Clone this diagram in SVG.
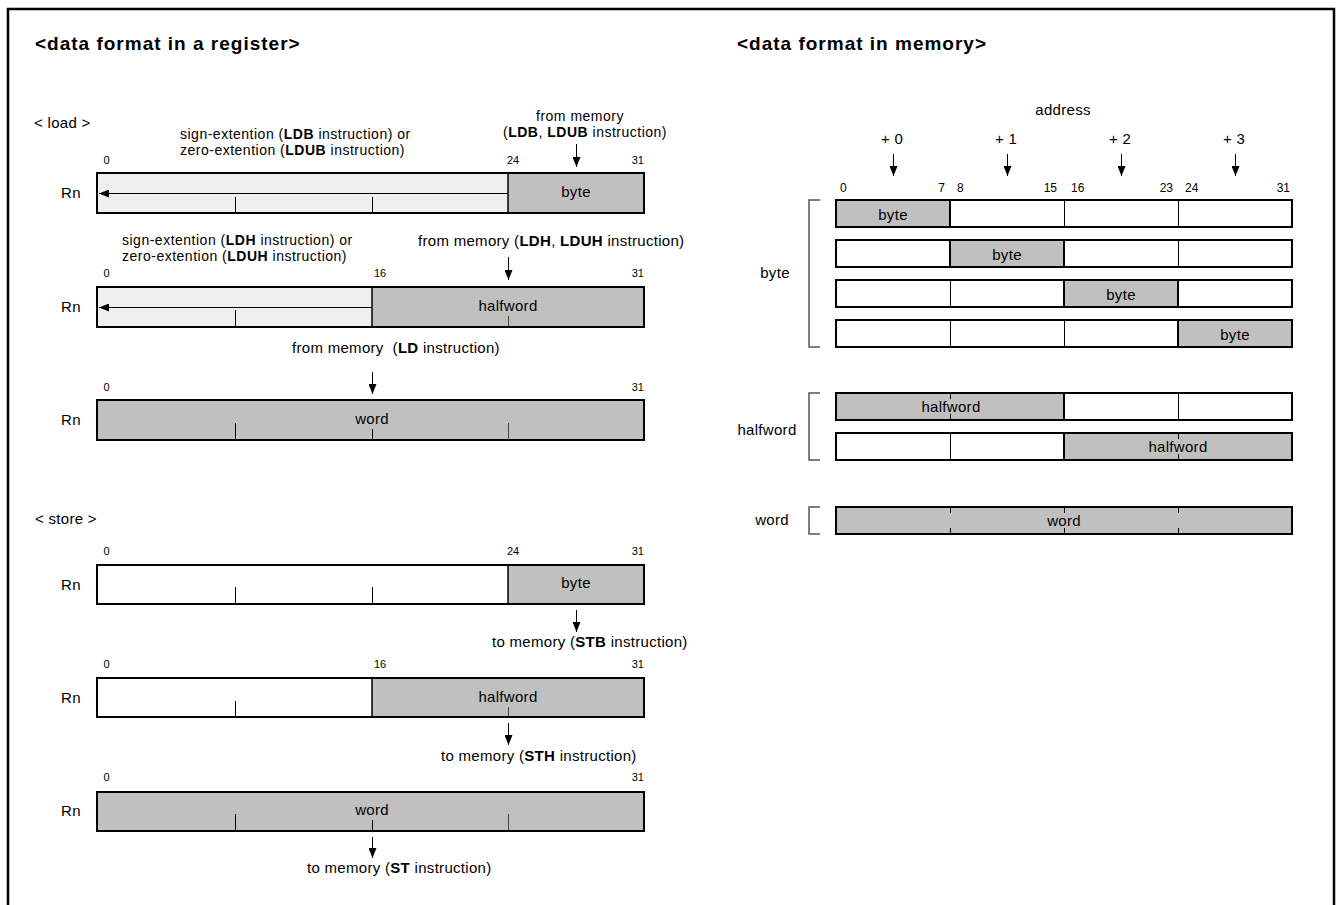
<svg xmlns="http://www.w3.org/2000/svg" width="1339" height="905" viewBox="0 0 1339 905">
<style>
text{font-family:"Liberation Sans",Arial,sans-serif;font-size:15px;letter-spacing:0.3px;fill:#000}
.h{font-weight:bold;font-size:19px;letter-spacing:1px}
.b{font-weight:bold}
.s{font-size:14px;letter-spacing:0.5px}
.n{font-size:11px;letter-spacing:0}
.mn{font-size:12px;letter-spacing:0}
.m{text-anchor:middle}
.e{text-anchor:end}
.gray{fill:#c0c0c0}
.light{fill:#efefef}
.white{fill:#fff}
.frame{fill:none;stroke:#000;stroke-width:2}
.div{stroke:#000;stroke-width:1.5}
.tick{stroke:#000;stroke-width:1}
.gtick{stroke:#444;stroke-width:1}
.arr{stroke:#000;stroke-width:1;fill:none;marker-end:url(#ah)}
.br{fill:none;stroke:#555;stroke-width:1.5}
.gcell{fill:#c0c0c0;stroke:#000;stroke-width:2}
</style>
<defs>
<marker id="ah" markerUnits="userSpaceOnUse" markerWidth="10" markerHeight="8" refX="10" refY="4" orient="auto">
<path d="M0,0 L10,4 L0,8 z" fill="#000"/>
</marker>
</defs>
<rect width="1339" height="905" fill="#fff"/>
<path d="M8,905 V9 H1334 V905" fill="none" stroke="#000" stroke-width="2.5"/>

<g id="titles">
<text class="h" x="35" y="50">&lt;data format in a register&gt;</text>
<text class="h" x="737" y="50">&lt;data format in memory&gt;</text>
<text x="34" y="128">&lt; load &gt;</text>
<text x="35" y="524">&lt; store &gt;</text>
</g>

<g id="reg-load-byte">
<rect x="97" y="173" width="411" height="40" class="light"/>
<rect x="508" y="173" width="136" height="40" class="gray"/>
<line x1="235.5" y1="197" x2="235.5" y2="213" class="tick"/>
<line x1="372.5" y1="197" x2="372.5" y2="213" class="tick"/>
<line x1="508" y1="173" x2="508" y2="213" class="div"/>
<rect x="97" y="173" width="547" height="40" class="frame"/>
<text class="m" x="576" y="197">byte</text>
<text class="m" x="71" y="198">Rn</text>
<text class="n" x="103.5" y="164">0</text>
<text class="n" x="507" y="164">24</text>
<text class="n e" x="644" y="164">31</text>
<text class="m s" x="580" y="121">from memory</text>
<text class="m s" x="585" y="137">(<tspan class="b">LDB</tspan>, <tspan class="b">LDUB</tspan> instruction)</text>
<text class="s" x="180" y="139">sign-extention (<tspan class="b">LDB</tspan> instruction) or</text>
<text class="s" x="180" y="155">zero-extention (<tspan class="b">LDUB</tspan> instruction)</text>
</g>

<g id="reg-load-halfword">
<rect x="97" y="287" width="275" height="40" class="light"/>
<rect x="372" y="287" width="272" height="40" class="gray"/>
<line x1="235.5" y1="310" x2="235.5" y2="327" class="tick"/>
<line x1="508.5" y1="316" x2="508.5" y2="327" class="gtick"/>
<line x1="372" y1="287" x2="372" y2="327" class="div"/>
<rect x="97" y="287" width="547" height="40" class="frame"/>
<text class="m" x="508" y="311">halfword</text>
<text class="m" x="71" y="312">Rn</text>
<text class="n" x="103.5" y="277">0</text>
<text class="n" x="374" y="277">16</text>
<text class="n e" x="644" y="277">31</text>
<text class="s" x="122" y="245">sign-extention (<tspan class="b">LDH</tspan> instruction) or</text>
<text class="s" x="122" y="261">zero-extention (<tspan class="b">LDUH</tspan> instruction)</text>
<text x="418" y="246">from memory (<tspan class="b">LDH</tspan>, <tspan class="b">LDUH</tspan> instruction)</text>
</g>

<g id="reg-load-word">
<rect x="97" y="400" width="547" height="40" class="gray"/>
<line x1="235.5" y1="423" x2="235.5" y2="440" class="tick"/>
<line x1="372.5" y1="429" x2="372.5" y2="440" class="tick"/>
<line x1="508.5" y1="423" x2="508.5" y2="440" class="gtick"/>
<rect x="97" y="400" width="547" height="40" class="frame"/>
<text class="m" x="372" y="424">word</text>
<text class="m" x="71" y="425">Rn</text>
<text class="n" x="103.5" y="391">0</text>
<text class="n e" x="644" y="391">31</text>
<text x="292" y="353" xml:space="preserve">from memory  (<tspan class="b">LD</tspan> instruction)</text>
</g>

<g id="reg-store-byte">
<rect x="97" y="565" width="411" height="39" class="white"/>
<rect x="508" y="565" width="136" height="39" class="gray"/>
<line x1="235.5" y1="587" x2="235.5" y2="604" class="tick"/>
<line x1="372.5" y1="587" x2="372.5" y2="604" class="tick"/>
<line x1="508" y1="565" x2="508" y2="604" class="div"/>
<rect x="97" y="565" width="547" height="39" class="frame"/>
<text class="m" x="576" y="588">byte</text>
<text class="m" x="71" y="590">Rn</text>
<text class="n" x="103.5" y="555">0</text>
<text class="n" x="507" y="555">24</text>
<text class="n e" x="644" y="555">31</text>
<text x="492" y="647">to memory (<tspan class="b">STB</tspan> instruction)</text>
</g>

<g id="reg-store-halfword">
<rect x="97" y="678" width="275" height="39" class="white"/>
<rect x="372" y="678" width="272" height="39" class="gray"/>
<line x1="235.5" y1="701" x2="235.5" y2="717" class="tick"/>
<line x1="508.5" y1="707" x2="508.5" y2="717" class="gtick"/>
<line x1="372" y1="678" x2="372" y2="717" class="div"/>
<rect x="97" y="678" width="547" height="39" class="frame"/>
<text class="m" x="508" y="702">halfword</text>
<text class="m" x="71" y="703">Rn</text>
<text class="n" x="103.5" y="668">0</text>
<text class="n" x="374" y="668">16</text>
<text class="n e" x="644" y="668">31</text>
<text x="441" y="761">to memory (<tspan class="b">STH</tspan> instruction)</text>
</g>

<g id="reg-store-word">
<rect x="97" y="792" width="547" height="39" class="gray"/>
<line x1="235.5" y1="814" x2="235.5" y2="831" class="tick"/>
<line x1="372.5" y1="820" x2="372.5" y2="831" class="tick"/>
<line x1="508.5" y1="814" x2="508.5" y2="831" class="gtick"/>
<rect x="97" y="792" width="547" height="39" class="frame"/>
<text class="m" x="372" y="815">word</text>
<text class="m" x="71" y="816">Rn</text>
<text class="n" x="103.5" y="781">0</text>
<text class="n e" x="644" y="781">31</text>
<text x="307" y="873">to memory (<tspan class="b">ST</tspan> instruction)</text>
</g>

<g id="mem-header">
<text class="m" x="1063" y="115">address</text>
<text class="m" x="892" y="144">+ 0</text>
<text class="m" x="1006" y="144">+ 1</text>
<text class="m" x="1120" y="144">+ 2</text>
<text class="m" x="1234" y="144">+ 3</text>
<text class="mn" x="840" y="192">0</text>
<text class="mn e" x="945" y="192">7</text>
<text class="mn" x="957" y="192">8</text>
<text class="mn e" x="1057" y="192">15</text>
<text class="mn" x="1071" y="192">16</text>
<text class="mn e" x="1173" y="192">23</text>
<text class="mn" x="1185" y="192">24</text>
<text class="mn e" x="1290" y="192">31</text>
</g>

<g id="mem-byte">
<path class="br" d="M820,200 H809 V347 H820"/>
<text class="m" x="775" y="278">byte</text>
<rect x="836" y="200" width="456" height="27" class="white"/>
<line x1="950.5" y1="200" x2="950.5" y2="227" class="tick"/>
<line x1="1064.5" y1="200" x2="1064.5" y2="227" class="tick"/>
<line x1="1178.5" y1="200" x2="1178.5" y2="227" class="tick"/>
<rect x="836" y="200" width="456" height="27" class="frame"/>
<rect x="836" y="200" width="114" height="27" class="gcell"/>
<text class="m" x="893" y="220">byte</text>

<rect x="836" y="240" width="456" height="27" class="white"/>
<line x1="950.5" y1="240" x2="950.5" y2="267" class="tick"/>
<line x1="1064.5" y1="240" x2="1064.5" y2="267" class="tick"/>
<line x1="1178.5" y1="240" x2="1178.5" y2="267" class="tick"/>
<rect x="836" y="240" width="456" height="27" class="frame"/>
<rect x="950" y="240" width="114" height="27" class="gcell"/>
<text class="m" x="1007" y="260">byte</text>

<rect x="836" y="280" width="456" height="27" class="white"/>
<line x1="950.5" y1="280" x2="950.5" y2="307" class="tick"/>
<line x1="1064.5" y1="280" x2="1064.5" y2="307" class="tick"/>
<line x1="1178.5" y1="280" x2="1178.5" y2="307" class="tick"/>
<rect x="836" y="280" width="456" height="27" class="frame"/>
<rect x="1064" y="280" width="114" height="27" class="gcell"/>
<text class="m" x="1121" y="300">byte</text>

<rect x="836" y="320" width="456" height="27" class="white"/>
<line x1="950.5" y1="320" x2="950.5" y2="347" class="tick"/>
<line x1="1064.5" y1="320" x2="1064.5" y2="347" class="tick"/>
<line x1="1178.5" y1="320" x2="1178.5" y2="347" class="tick"/>
<rect x="836" y="320" width="456" height="27" class="frame"/>
<rect x="1178" y="320" width="114" height="27" class="gcell"/>
<text class="m" x="1235" y="340">byte</text>
</g>

<g id="mem-halfword">
<path class="br" d="M820,393 H809 V460 H820"/>
<text class="m" x="767" y="435">halfword</text>
<rect x="836" y="393" width="456" height="27" class="white"/>
<line x1="1178.5" y1="393" x2="1178.5" y2="420" class="tick"/>
<rect x="836" y="393" width="456" height="27" class="frame"/>
<rect x="836" y="393" width="228" height="27" class="gcell"/>
<line x1="950.5" y1="394" x2="950.5" y2="399" class="tick"/>
<line x1="950.5" y1="414" x2="950.5" y2="419" class="tick"/>
<text class="m" x="951" y="412">halfword</text>

<rect x="836" y="433" width="456" height="27" class="white"/>
<line x1="950.5" y1="433" x2="950.5" y2="460" class="tick"/>
<rect x="836" y="433" width="456" height="27" class="frame"/>
<rect x="1064" y="433" width="228" height="27" class="gcell"/>
<line x1="1178.5" y1="434" x2="1178.5" y2="439" class="tick"/>
<line x1="1178.5" y1="454" x2="1178.5" y2="459" class="tick"/>
<text class="m" x="1178" y="452">halfword</text>
</g>

<g id="mem-word">
<path class="br" d="M820,507 H809 V534 H820"/>
<text class="m" x="772" y="525">word</text>
<rect x="836" y="507" width="456" height="27" class="gcell"/>
<line x1="950.5" y1="508" x2="950.5" y2="513" class="tick"/>
<line x1="950.5" y1="528" x2="950.5" y2="533" class="tick"/>
<line x1="1064.5" y1="508" x2="1064.5" y2="513" class="tick"/>
<line x1="1064.5" y1="528" x2="1064.5" y2="533" class="tick"/>
<line x1="1178.5" y1="508" x2="1178.5" y2="513" class="tick"/>
<line x1="1178.5" y1="528" x2="1178.5" y2="533" class="tick"/>
<text class="m" x="1064" y="526">word</text>
</g>

<g id="connectors">
<line class="arr" x1="508" y1="193.5" x2="99" y2="193.5"/>
<line class="arr" x1="372" y1="307.5" x2="99" y2="307.5"/>
<line class="arr" x1="576.5" y1="144" x2="576.5" y2="167"/>
<line class="arr" x1="508.5" y1="257" x2="508.5" y2="280"/>
<line class="arr" x1="372.5" y1="372" x2="372.5" y2="394"/>
<line class="arr" x1="576.5" y1="610" x2="576.5" y2="632"/>
<line class="arr" x1="508.5" y1="723" x2="508.5" y2="745"/>
<line class="arr" x1="372.5" y1="837" x2="372.5" y2="858"/>
<line class="arr" x1="893.5" y1="154" x2="893.5" y2="176"/>
<line class="arr" x1="1007.5" y1="154" x2="1007.5" y2="176"/>
<line class="arr" x1="1121.5" y1="154" x2="1121.5" y2="176"/>
<line class="arr" x1="1235.5" y1="154" x2="1235.5" y2="176"/>
</g>
</svg>
